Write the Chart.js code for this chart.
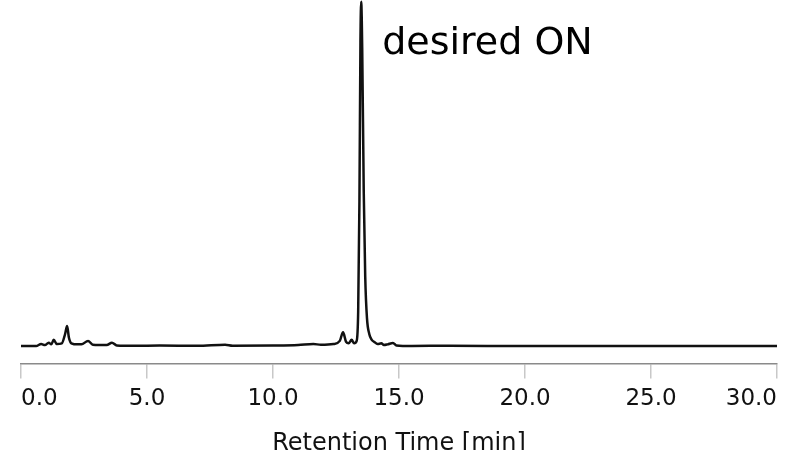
<!DOCTYPE html>
<html lang="en">
<head>
    <meta charset="UTF-8">
    <title>Chromatogram</title>
    <script src="https://cdn.jsdelivr.net/npm/chart.js"></script>
    <style>
        html, body { margin: 0; padding: 0; background: #fff; overflow: hidden; }
        #chromChart { display: block; }
    </style>
</head>
<body>
    <canvas id="chromChart" width="796" height="456"></canvas>

    <script>
        // Retention time [min] and detector signal (relative, main peak ~100)
        const retentionTimes = [
            0.0, 0.6, 0.8, 0.95, 1.1, 1.2, 1.3, 1.42, 1.62, 1.75, 1.83, 1.9, 2.0, 2.25, 2.4,
            2.66, 2.85, 3.4, 3.61, 3.8, 4.5, 5.5, 7.0, 8.1, 8.4, 10.0, 11.0, 11.6, 11.9, 12.4,
            12.65, 12.78, 12.9, 13.0, 13.12, 13.22, 13.32, 13.38, 13.43, 13.47, 13.5, 13.54,
            13.6, 13.66, 13.73, 13.82, 13.92, 14.02, 14.15, 14.3, 14.4, 14.55, 14.76, 14.9,
            15.5, 17.0, 20.0, 25.0, 30.0
        ];
        const signal = [
            0, 0, 0.6, 0.3, 1.0, 0.5, 1.8, 0.6, 0.8, 3.5, 5.8, 2.5, 0.8, 0.5, 0.5,
            1.5, 0.4, 0.3, 1.0, 0.2, 0.1, 0.15, 0.1, 0.4, 0.1, 0.15, 0.3, 0.6, 0.4, 0.6,
            1.5, 4.0, 1.2, 0.8, 1.8, 0.8, 1.5, 10, 42, 88, 99.5, 86,
            45, 20, 8, 3.5, 1.8, 1.2, 0.6, 0.8, 0.3, 0.5, 0.9, 0.2,
            0.05, 0.1, 0, 0, 0
        ];
        const xTicks = [0, 5, 10, 15, 20, 25, 30];
        const peakLabel = 'desired ON';
        const peakTime = 13.5;

        const points = retentionTimes.map((t, i) => ({ x: t, y: signal[i] }));

        // label next to the main peak
        const peakLabelPlugin = {
            id: 'peakLabel',
            afterDatasetsDraw(chart) {
                const ctx = chart.ctx;
                const x = chart.scales.x.getPixelForValue(peakTime) + 21;
                ctx.save();
                ctx.font = '38px "DejaVu Sans"';
                ctx.fillStyle = '#000';
                ctx.textBaseline = 'alphabetic';
                ctx.fillText(peakLabel, x, chart.chartArea.top + 54);
                ctx.restore();
            }
        };

        const ctx = document.getElementById('chromChart').getContext('2d');
        new Chart(ctx, {
            type: 'line',
            data: {
                datasets: [{
                    data: points,
                    borderColor: '#111',
                    borderWidth: 2.5,
                    pointRadius: 0,
                    cubicInterpolationMode: 'monotone',
                    fill: false
                }]
            },
            options: {
                responsive: false,
                animation: false,
                layout: { padding: { left: 21, right: 19, top: 0, bottom: 0 } },
                plugins: { legend: { display: false }, tooltip: { enabled: false } },
                scales: {
                    x: {
                        type: 'linear',
                        min: 0,
                        max: 30,
                        afterBuildTicks(scale) {
                            scale.ticks = xTicks.map(v => ({ value: v }));
                        },
                        ticks: {
                            align: 'inner',
                            padding: 7,
                            color: '#111',
                            font: { family: '"DejaVu Sans"', size: 23 },
                            callback: v => Number(v).toFixed(1)
                        },
                        grid: {
                            drawOnChartArea: false,
                            drawTicks: true,
                            tickLength: 15,
                            color: '#c8c8c8',
                            lineWidth: 1.5
                        },
                        border: { display: true, color: '#8a8a8a', width: 1.5 },
                        title: {
                            display: true,
                            text: 'Retention Time [min]',
                            color: '#111',
                            font: { family: '"DejaVu Sans"', size: 24, lineHeight: 1 },
                            padding: { top: 12, bottom: 0 }
                        }
                    },
                    y: {
                        display: false,
                        min: -5,
                        max: 100
                    }
                }
            },
            plugins: [peakLabelPlugin]
        });
    </script>
</body>
</html>
